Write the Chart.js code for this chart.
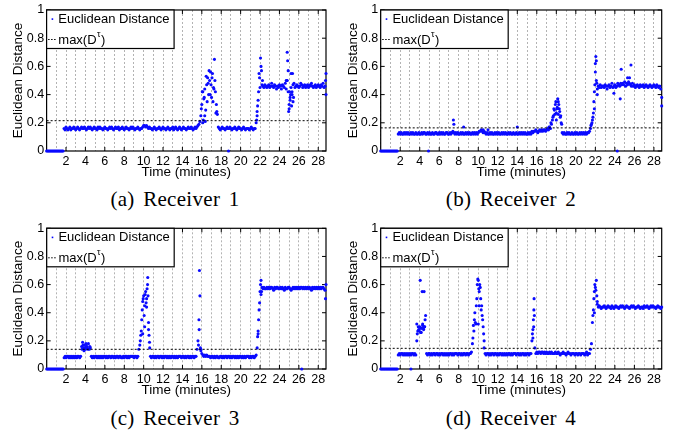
<!DOCTYPE html>
<html><head><meta charset="utf-8">
<script src="https://cdn.jsdelivr.net/npm/chart.js@4/dist/chart.umd.min.js"></script>
<style>
html,body{margin:0;padding:0;background:#fff;}
#wrap{position:relative;width:673px;height:430px;overflow:hidden;background:#fff;}
canvas{position:absolute;}
.cap{position:absolute;font-family:"Liberation Serif","Times New Roman",serif;font-size:21px;color:#000;transform:translate(-50%,-50%);white-space:nowrap;word-spacing:3px;letter-spacing:0.3px;}
</style></head><body>
<div id="wrap">
<canvas id="c0" width="336" height="180" style="left:0;top:0"></canvas>
<canvas id="c1" width="337" height="180" style="left:336px;top:0"></canvas>
<canvas id="c2" width="336" height="183" style="left:0;top:215px"></canvas>
<canvas id="c3" width="337" height="183" style="left:336px;top:215px"></canvas>
</div>
<script>
// ---- data (time in minutes, sampled every 0.1 min from t = 0) ----
const sampleStep = 0.1;
const captions = ['(a) Receiver 1', '(b) Receiver 2', '(c) Receiver 3', '(d) Receiver 4'];
const seriesLabel = 'Euclidean Distance';
const thresholdLabel = 'max(D';
const thresholdSup = 'τ';
const xTitle = 'Time (minutes)';
const yTitle = 'Euclidean Distance';
const xTickLabels = [2,4,6,8,10,12,14,16,18,20,22,24,26,28];
const thresholds = [0.215, 0.164, 0.14, 0.147];

const receiver1 = [
0,0,0,0,0,0,0,0,0,0,0,0,0,0,0,0,0,0,
.16,.15,.17,.16,.15,.16,.17,.15,.16,.16,
.17,.16,.15,.16,.17,.16,.15,.16,.17,.16,
.16,.17,.16,.15,.16,.17,.16,.17,.16,.15,
.16,.17,.16,.16,.15,.17,.16,.17,.16,.16,
.15,.16,.17,.16,.16,.15,.16,.17,.16,.17,
.16,.15,.16,.17,.16,.16,.17,.15,.16,.16,
.17,.16,.15,.16,.17,.16,.16,.15,.16,.17,
.16,.17,.16,.15,.16,.16,.17,.16,.15,.16,
.16,.17,.18,.18,.17,.18,.17,.16,.17,.16,
.16,.15,.16,.17,.16,.15,.16,.16,.17,.16,
.15,.16,.17,.16,.16,.15,.16,.17,.16,.15,
.16,.16,.17,.15,.16,.17,.16,.15,.16,.17,
.16,.15,.16,.17,.16,.16,.15,.16,.17,.16,
.16,.17,.16,.15,.16,.17,.16,.17,.18,.19,
.21,.25,.33,.42,.37,.44,.29,.47,.52,.40,
.50,.56,.38,.55,.45,.65,.42,.33,.26,.17,
.16,.15,.16,.17,.16,.16,.15,.16,.17,.16,
.16,.17,.16,.15,.16,.16,.17,.16,.15,.16,
.17,.16,.16,.15,.16,.17,.16,.15,.16,.16,
.16,.15,.16,.17,.16,.15,.16,.16,.20,.28,
.36,.55,.45,.60,.47,.46,.45,.47,.46,.45,
.46,.47,.45,.46,.48,.46,.45,.47,.46,.44,
.46,.45,.47,.46,.44,.47,.46,.45,.48,.50,
.70,.42,.30,.38,.55,.40,.35,.48,.45,.46,
.47,.46,.45,.46,.48,.47,.45,.46,.47,.45,
.46,.47,.45,.46,.47,.48,.46,.45,.46,.47,
.45,.46,.47,.46,.45,.47,.46,.48,.45,.46,
.55];
const receiver1Extra = [[15.95,.30],[16.05,.42],[16.15,.22],[16.25,.38],[16.35,.21],[16.45,.53],[16.55,.35],[16.65,.48],[16.75,.57],[16.85,.40],[16.95,.47],[17.05,.52],[17.15,.35],[17.25,.44],[17.35,.50],[17.45,.27],[17.55,.28],[16.1,.20],[16.3,.25],[21.65,.22],[21.75,.32],[21.85,.42],[21.95,.52],[22.05,.66],[22.15,.57],[22.25,.50],[21.7,.25],[24.75,.50],[24.85,.64],[24.9,.57],[24.95,.28],[25.0,.33],[25.05,.42],[25.1,.36],[25.15,.40],[25.25,.32],[25.3,.42],[25.35,.55],[25.4,.47],[25.45,.38],[24.7,.44],[24.8,.50],[25.2,.45],[28.75,.50],[28.8,.40],[18.75,0]];

const receiver2 = [
0,0,0,0,0,0,0,0,0,0,0,0,0,0,0,0,0,0,
.12,.13,.12,.13,.12,.12,.13,.12,.13,.12,
.13,.12,.12,.13,.12,.13,.12,.12,.13,.12,
.12,.13,.12,.12,.13,.12,.13,.13,.12,.12,
.13,.12,.13,.12,.12,.13,.12,.12,.13,.13,
.12,.12,.13,.12,.13,.12,.13,.12,.12,.13,
.13,.12,.12,.13,.12,.13,.14,.13,.12,.13,
.12,.13,.12,.12,.13,.12,.13,.12,.12,.13,
.12,.13,.12,.13,.12,.12,.13,.12,.13,.12,
.13,.12,.13,.14,.14,.15,.14,.13,.14,.13,
.12,.13,.12,.12,.13,.12,.13,.12,.12,.13,
.12,.13,.12,.13,.12,.12,.13,.12,.13,.12,
.13,.12,.12,.13,.12,.13,.12,.12,.13,.12,
.12,.13,.12,.12,.13,.12,.13,.12,.13,.12,
.13,.12,.12,.13,.12,.13,.12,.14,.13,.14,
.14,.15,.14,.13,.14,.15,.14,.15,.14,.15,
.15,.14,.15,.16,.15,.17,.16,.19,.22,.25,
.29,.33,.27,.31,.35,.30,.24,.20,.13,.12,
.13,.12,.12,.13,.12,.13,.12,.12,.13,.12,
.12,.13,.12,.13,.12,.12,.13,.12,.13,.12,
.13,.12,.13,.12,.13,.13,.14,.16,.19,.22,
.27,.42,.62,.50,.44,.46,.45,.47,.45,.46,
.46,.45,.47,.46,.44,.46,.47,.45,.46,.48,
.45,.46,.47,.45,.46,.48,.47,.46,.48,.47,
.48,.47,.49,.46,.48,.47,.49,.48,.47,.46,
.48,.46,.47,.45,.46,.47,.46,.45,.47,.46,
.46,.47,.45,.46,.47,.46,.45,.46,.47,.46,
.45,.46,.47,.46,.45,.47,.46,.45,.46,.44,
.38];
const receiver2Extra = [[7.45,.22],[7.5,.19],[8.5,.17],[10.5,.15],[11.0,.15],[14.0,.17],[17.25,.17],[17.45,.20],[17.65,.24],[17.75,.30],[17.85,.26],[17.95,.35],[18.05,.30],[18.15,.37],[18.25,.33],[18.35,.28],[18.45,.25],[18.55,.19],[18.0,.22],[18.2,.26],[21.55,.18],[21.65,.20],[21.75,.24],[21.85,.35],[21.95,.47],[22.05,.67],[22.0,.56],[22.1,.64],[22.15,.48],[21.9,.30],[22.2,.40],[24.65,.58],[24.55,.37],[25.3,.52],[25.65,.61],[25.5,.52],[23.9,.41],[28.8,.32],[4.9,0],[24.25,0]];

const receiver3 = [
0,0,0,0,0,0,0,0,0,0,0,0,0,0,0,0,0,0,
.08,.09,.08,.09,.09,.08,.09,.08,.09,.08,
.09,.08,.09,.08,.09,.09,.08,.09,.16,.19,
.15,.17,.14,.16,.15,.18,.14,.15,.09,.08,
.09,.08,.09,.09,.08,.09,.08,.09,.08,.09,
.08,.09,.09,.08,.09,.08,.09,.09,.08,.09,
.09,.08,.09,.08,.09,.09,.08,.09,.09,.08,
.08,.09,.08,.09,.09,.08,.09,.08,.09,.09,
.09,.09,.08,.09,.09,.08,.09,.14,.17,.24,
.35,.48,.52,.45,.55,.50,.60,.28,.19,.09,
.08,.09,.09,.08,.09,.08,.09,.09,.08,.09,
.09,.08,.09,.08,.09,.09,.08,.09,.08,.09,
.08,.09,.09,.08,.09,.08,.09,.08,.09,.09,
.09,.08,.09,.09,.08,.09,.08,.09,.09,.08,
.09,.08,.09,.09,.08,.09,.09,.14,.20,.35,
.52,.14,.11,.10,.09,.10,.09,.10,.09,.09,
.09,.08,.09,.09,.08,.09,.08,.09,.09,.08,
.08,.09,.09,.08,.09,.08,.09,.09,.08,.09,
.09,.08,.09,.08,.09,.09,.08,.09,.08,.09,
.08,.09,.09,.08,.09,.08,.09,.08,.09,.09,
.09,.08,.09,.08,.09,.09,.08,.09,.10,.15,
.27,.42,.55,.63,.58,.57,.58,.57,.57,.58,
.57,.58,.57,.58,.58,.57,.56,.58,.57,.58,
.58,.57,.57,.58,.57,.58,.57,.56,.58,.57,
.57,.58,.58,.57,.56,.57,.58,.57,.58,.57,
.58,.57,.58,.57,.58,.58,.57,.58,.57,.58,
.57,.58,.57,.58,.57,.56,.58,.57,.58,.57,
.58,.57,.58,.57,.58,.57,.58,.58,.57,.56,
.60];
const receiver3Extra = [[3.65,.14],[3.75,.17],[3.85,.13],[3.95,.15],[4.05,.18],[4.15,.16],[4.25,.14],[4.45,.16],[9.65,.20],[9.75,.27],[9.85,.42],[9.9,.25],[9.95,.50],[10.05,.38],[10.1,.30],[10.15,.53],[10.25,.47],[10.3,.44],[10.35,.57],[10.42,.65],[10.45,.52],[10.5,.33],[10.55,.24],[10.62,.15],[15.65,.17],[15.72,.28],[15.75,.70],[15.85,.15],[15.9,.13],[21.75,.23],[21.8,.25],[21.85,.35],[21.95,.47],[22.05,.60],[22.1,.53],[22.15,.55],[28.75,.50],[26.3,0]];

const receiver4 = [
0,0,0,0,0,0,0,0,0,0,0,0,0,0,0,0,0,0,
.10,.11,.10,.11,.11,.10,.11,.10,.11,.10,
.11,.10,.11,.10,.11,.11,.10,.11,.10,.20,
.27,.28,.30,.26,.29,.31,.28,.30,.38,.11,
.10,.11,.11,.10,.11,.10,.11,.11,.10,.11,
.11,.10,.11,.10,.11,.11,.10,.11,.10,.11,
.10,.11,.10,.11,.11,.10,.11,.10,.11,.11,
.11,.10,.11,.11,.10,.11,.10,.11,.11,.10,
.11,.11,.10,.11,.11,.12,.18,.31,.35,.33,
.45,.60,.63,.55,.58,.42,.38,.30,.20,.11,
.10,.11,.11,.10,.11,.10,.11,.11,.10,.11,
.11,.10,.11,.10,.11,.11,.10,.11,.10,.11,
.10,.11,.10,.11,.11,.10,.11,.10,.11,.11,
.11,.10,.11,.11,.10,.11,.10,.11,.11,.10,
.11,.10,.11,.11,.10,.11,.11,.20,.28,.42,
.15,.11,.12,.11,.12,.12,.11,.12,.12,.11,
.12,.11,.12,.11,.11,.12,.11,.12,.11,.11,
.11,.12,.11,.11,.12,.11,.10,.11,.11,.12,
.11,.11,.10,.11,.12,.11,.11,.10,.11,.11,
.11,.10,.11,.11,.10,.11,.11,.10,.11,.11,
.11,.10,.11,.12,.10,.11,.11,.14,.18,.33,
.42,.55,.58,.63,.46,.44,.45,.44,.43,.44,
.44,.45,.44,.43,.44,.45,.44,.44,.43,.45,
.44,.43,.44,.45,.44,.44,.43,.44,.45,.44,
.45,.44,.43,.44,.45,.44,.44,.43,.44,.45,
.44,.45,.44,.43,.44,.44,.45,.44,.43,.44,
.44,.43,.45,.44,.44,.45,.44,.43,.44,.45,
.44,.45,.44,.44,.43,.44,.45,.44,.44,.43,
.44];
const receiver4Extra = [[3.7,.32],[3.75,.25],[3.85,.30],[3.95,.27],[4.05,.63],[4.1,.29],[4.15,.26],[4.25,.55],[4.3,.32],[4.35,.29],[4.45,.55],[4.5,.30],[4.55,.35],[9.45,.22],[9.55,.27],[9.65,.40],[9.75,.32],[9.85,.50],[9.95,.64],[10.0,.32],[10.05,.57],[10.1,.45],[10.15,.60],[10.25,.50],[10.35,.45],[10.45,.35],[10.55,.25],[10.6,.15],[15.55,.25],[15.6,.22],[15.65,.35],[15.68,.30],[15.72,.50],[15.75,.38],[21.75,.38],[21.85,.50],[21.9,.40],[21.95,.60],[22.05,.56],[22.15,.52],[22.2,.48],[3.1,0]];

const allValues = [receiver1, receiver2, receiver3, receiver4];
const allExtras = [receiver1Extra, receiver2Extra, receiver3Extra, receiver4Extra];

// ---- layout ----
const X_MAX = 28.8;
const panels = [
  {id:'c0', padTop:9.5,  padRight:10,   yWidth:46.6, titlePad:9.9, capX:175, capY:199},
  {id:'c1', padTop:9.5,  padRight:11.3, yWidth:44.7, titlePad:9.2, capX:511, capY:199},
  {id:'c2', padTop:13.3, padRight:10,   yWidth:46.7, titlePad:9.9, capX:175, capY:418},
  {id:'c3', padTop:13.3, padRight:11.3, yWidth:44.7, titlePad:9.2, capX:511, capY:418}
];

Chart.defaults.font.family = '"Liberation Sans", Arial, sans-serif';
Chart.defaults.color = '#000';

const framePlugin = {
  id: 'matlabFrame',
  beforeDatasetsDraw(chart) {
    const {ctx, chartArea: a, scales} = chart;
    ctx.save();
    ctx.strokeStyle = '#000';
    ctx.lineWidth = 1.2;
    ctx.setLineDash([]);
    ctx.strokeRect(a.left, a.top, a.right - a.left, a.bottom - a.top);
    ctx.lineWidth = 1;
    ctx.beginPath();
    scales.y.ticks.forEach(t => {
      const y = scales.y.getPixelForValue(t.value);
      ctx.moveTo(a.left, y); ctx.lineTo(a.left + 4, y);
      ctx.moveTo(a.right, y); ctx.lineTo(a.right - 4, y);
    });
    scales.x.ticks.forEach(t => {
      const r = Math.round(t.value);
      if (Math.abs(t.value - r) > 1e-6 || !xTickLabels.includes(r)) return;
      const x = scales.x.getPixelForValue(t.value);
      ctx.moveTo(x, a.bottom); ctx.lineTo(x, a.bottom - 4);
      ctx.moveTo(x, a.top); ctx.lineTo(x, a.top + 4);
    });
    ctx.stroke();
    ctx.restore();
  },
  afterDatasetsDraw(chart) {
    const {ctx, chartArea: a} = chart;
    ctx.save();
    ctx.font = '13px "Liberation Sans", Arial, sans-serif';
    const tw = ctx.measureText(seriesLabel).width;
    const w = 11.7 + tw + 4.5, h = 38.5;
    ctx.fillStyle = '#fff';
    ctx.fillRect(a.left, a.top, w, h);
    ctx.strokeStyle = '#000';
    ctx.lineWidth = 1.2;
    ctx.strokeRect(a.left, a.top, w, h);
    // row 1
    ctx.fillStyle = '#0000ff';
    ctx.fillRect(a.left + 5, a.top + 8.3, 1.6, 1.6);
    ctx.fillStyle = '#000';
    ctx.textBaseline = 'middle';
    ctx.textAlign = 'left';
    ctx.fillText(seriesLabel, a.left + 11.7, a.top + 9.3);
    // row 2
    ctx.strokeStyle = '#000';
    ctx.lineWidth = 1;
    ctx.setLineDash([1.5, 1.5]);
    ctx.beginPath();
    ctx.moveTo(a.left + 1.5, a.top + 29.5);
    ctx.lineTo(a.left + 10.5, a.top + 29.5);
    ctx.stroke();
    ctx.setLineDash([]);
    let x = a.left + 11.7;
    const y = a.top + 30;
    ctx.fillText(thresholdLabel, x, y);
    x += ctx.measureText(thresholdLabel).width;
    ctx.font = '9px "Liberation Sans", Arial, sans-serif';
    ctx.fillText(thresholdSup, x + 0.3, y - 5.5);
    x += ctx.measureText(thresholdSup).width + 0.8;
    ctx.font = '13px "Liberation Sans", Arial, sans-serif';
    ctx.fillText(')', x, y);
    ctx.restore();
  }
};

panels.forEach((p, i) => {
  const pts = allValues[i].map((v, k) => ({x: Math.round(k * sampleStep * 100) / 100, y: v}));
  allExtras[i].forEach(([x, y]) => pts.push({x, y}));
  const thr = thresholds[i];
  new Chart(document.getElementById(p.id), {
    type: 'scatter',
    data: {
      datasets: [
        {
          label: seriesLabel,
          data: pts,
          pointRadius: 1.55,
          pointHoverRadius: 1.55,
          pointBorderWidth: 0,
          pointBackgroundColor: '#0a0aff',
          clip: false,
          order: 2
        },
        {
          label: 'max(Dτ)',
          type: 'line',
          data: [{x: 0, y: thr}, {x: X_MAX, y: thr}],
          borderColor: '#000',
          borderWidth: 1,
          borderDash: [2, 2],
          pointRadius: 0,
          fill: false,
          order: 1
        }
      ]
    },
    options: {
      responsive: false,
      animation: false,
      events: [],
      layout: {padding: {top: p.padTop, right: p.padRight, left: 0, bottom: 0}},
      plugins: {legend: {display: false}, tooltip: {enabled: false}},
      scales: {
        x: {
          type: 'linear',
          min: 0, max: X_MAX,
          afterFit(s) { s.height = 29; },
          ticks: {
            stepSize: 1, autoSkip: false, maxRotation: 0, padding: 3.5, includeBounds: false,
            font: {size: 12.5},
            callback: v => {
              const r = Math.round(v);
              return (Math.abs(v - r) < 1e-6 && xTickLabels.includes(r)) ? String(r) : '';
            }
          },
          grid: {display: true, drawOnChartArea: true, drawTicks: false, color: '#a0a0a0', lineWidth: 0.8},
          border: {display: false, dash: [2, 2]},
          title: {display: true, text: xTitle, font: {size: 13.5}, padding: {top: 0, bottom: 0}}
        },
        y: {
          min: 0, max: 1,
          afterFit(s) { s.width = p.yWidth; },
          ticks: {stepSize: 0.2, padding: 2.5, font: {size: 12.5},
            callback: v => String(Math.round(v * 10) / 10)},
          grid: {display: false, drawTicks: false},
          border: {display: false},
          title: {display: true, text: yTitle, font: {size: 13.5}, padding: {top: p.titlePad, bottom: 0}}
        }
      }
    },
    plugins: [framePlugin]
  });
  const cap = document.createElement('div');
  cap.className = 'cap';
  cap.textContent = captions[i];
  cap.style.left = p.capX + 'px';
  cap.style.top = p.capY + 'px';
  document.getElementById('wrap').appendChild(cap);
});
</script>
</body></html>
